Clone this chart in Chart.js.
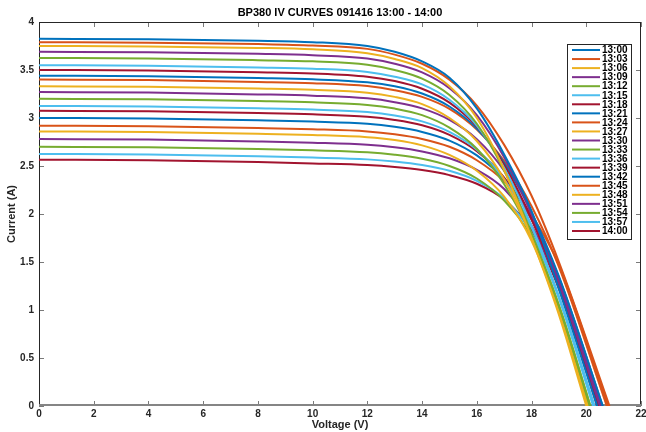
<!DOCTYPE html>
<html>
<head>
<meta charset="utf-8">
<title>BP380 IV curves 091416</title>
<script src="https://cdn.jsdelivr.net/npm/chart.js@4.4.1/dist/chart.umd.min.js"></script>
<style>
    html, body { margin: 0; padding: 0; background: #ffffff; }
    #wrap { position: relative; width: 646px; height: 432px; }
</style>
</head>
<body>
<div id="wrap"><canvas id="ivChart" width="646" height="432"></canvas></div>
<script>
// IV curves of a BP380 panel, one sweep every 3 minutes

const TITLE = "BP380 IV CURVES 091416 13:00 - 14:00";

const times = [
    "13:00", "13:03", "13:06", "13:09", "13:12", "13:15", "13:18",
    "13:21", "13:24", "13:27", "13:30", "13:33", "13:36", "13:39",
    "13:42", "13:45", "13:48", "13:51", "13:54", "13:57", "14:00"
];

// voltage points (V) where the current was read for every sweep
const voltage = [0, 4, 8, 10, 12, 13, 14, 15, 16, 17, 18, 19];

// open circuit voltage of each sweep (current = 0)
const voc = [
    20.4, 20.85, 20.0, 20.5, 20.15, 20.3, 20.45,
    20.6, 20.75, 20.05, 20.55, 20.1, 20.3, 20.5,
    20.6, 20.8, 20.05, 20.45, 20.15, 20.25, 20.4
];

// current (A) at each voltage point, one row per sweep
const current = [
    [3.825, 3.82, 3.805, 3.79, 3.75, 3.69, 3.59, 3.42, 3.10, 2.62, 2.03, 1.22],
    [3.79, 3.785, 3.77, 3.755, 3.72, 3.66, 3.565, 3.40, 3.13, 2.72, 2.19, 1.50],
    [3.75, 3.745, 3.73, 3.715, 3.675, 3.615, 3.52, 3.33, 3.00, 2.46, 1.75, 0.95],
    [3.69, 3.685, 3.668, 3.654, 3.62, 3.565, 3.475, 3.31, 3.03, 2.59, 2.00, 1.28],
    [3.625, 3.62, 3.602, 3.59, 3.555, 3.50, 3.41, 3.24, 2.94, 2.45, 1.80, 1.04],
    [3.55, 3.545, 3.527, 3.514, 3.48, 3.43, 3.35, 3.19, 2.92, 2.48, 1.88, 1.14],
    [3.50, 3.495, 3.477, 3.464, 3.43, 3.385, 3.305, 3.16, 2.91, 2.51, 1.95, 1.24],
    [3.44, 3.435, 3.416, 3.403, 3.372, 3.33, 3.255, 3.12, 2.89, 2.53, 2.02, 1.35],
    [3.40, 3.395, 3.376, 3.363, 3.333, 3.29, 3.22, 3.095, 2.88, 2.55, 2.08, 1.45],
    [3.33, 3.325, 3.306, 3.293, 3.264, 3.22, 3.145, 3.00, 2.76, 2.36, 1.76, 0.98],
    [3.27, 3.265, 3.246, 3.233, 3.205, 3.165, 3.10, 2.98, 2.78, 2.45, 1.96, 1.31],
    [3.20, 3.195, 3.176, 3.163, 3.136, 3.098, 3.03, 2.90, 2.68, 2.31, 1.77, 1.02],
    [3.125, 3.12, 3.101, 3.088, 3.062, 3.026, 2.965, 2.855, 2.67, 2.36, 1.86, 1.14],
    [3.075, 3.07, 3.051, 3.038, 3.013, 2.98, 2.925, 2.825, 2.655, 2.38, 1.94, 1.28],
    [3.00, 2.995, 2.976, 2.963, 2.94, 2.908, 2.855, 2.765, 2.61, 2.36, 1.96, 1.34],
    [2.92, 2.915, 2.896, 2.883, 2.86, 2.83, 2.782, 2.70, 2.56, 2.34, 1.99, 1.47],
    [2.86, 2.855, 2.836, 2.823, 2.80, 2.77, 2.715, 2.615, 2.45, 2.18, 1.72, 0.98],
    [2.78, 2.775, 2.756, 2.743, 2.722, 2.695, 2.652, 2.58, 2.46, 2.26, 1.88, 1.24],
    [2.70, 2.695, 2.676, 2.663, 2.643, 2.617, 2.575, 2.50, 2.37, 2.14, 1.75, 1.05],
    [2.625, 2.62, 2.601, 2.588, 2.569, 2.546, 2.51, 2.45, 2.345, 2.16, 1.80, 1.12],
    [2.565, 2.56, 2.541, 2.527, 2.51, 2.49, 2.458, 2.405, 2.315, 2.15, 1.83, 1.22]
];

// MATLAB default line colours, repeated
const LINE_COLORS = ["#0072BD", "#D95319", "#EDB120", "#7E2F8E", "#77AC30", "#4DBEEE", "#A2142F"];

const FONT = "'Liberation Sans', Arial, Helvetica, sans-serif";
const AXIS_COLOR = "#262626";

Chart.defaults.font.family = FONT;
Chart.defaults.font.weight = "bold";
Chart.defaults.color = AXIS_COLOR;

// box round the plot with the ticks pointing inwards, like MATLAB
const axesBox = {
    id: "axesBox",
    beforeDatasetsDraw(chart) {
        const c = chart.ctx;
        const a = chart.chartArea;
        const xs = chart.scales.x, ys = chart.scales.y;
        const len = 5;
        c.save();
        c.strokeStyle = "#7a7a7a";
        c.lineWidth = 1;
        c.beginPath();
        xs.ticks.forEach(t => {
            const px = Math.round(xs.getPixelForValue(t.value)) + 0.5;
            c.moveTo(px, a.bottom); c.lineTo(px, a.bottom - len);
            c.moveTo(px, a.top); c.lineTo(px, a.top + len);
        });
        ys.ticks.forEach(t => {
            const py = Math.round(ys.getPixelForValue(t.value)) + 0.5;
            c.moveTo(a.left, py); c.lineTo(a.left + len, py);
            c.moveTo(a.right, py); c.lineTo(a.right - len, py);
        });
        c.stroke();
        // outer frame
        c.strokeStyle = AXIS_COLOR;
        c.strokeRect(Math.round(a.left) + 0.5, Math.round(a.top) + 0.5,
                     Math.round(a.width) - 1, Math.round(a.height) - 1);
        // x axis line is drawn a bit heavier and grey
        c.strokeStyle = "#858585";
        c.lineWidth = 2;
        c.beginPath();
        c.moveTo(a.left, a.bottom - 1);
        c.lineTo(a.right, a.bottom - 1);
        c.stroke();
        c.restore();
    },
    afterDraw(chart) {
        // title centred over the plot area
        const c = chart.ctx;
        const a = chart.chartArea;
        c.save();
        c.fillStyle = "#000000";
        c.font = "bold 11px " + FONT;
        c.textAlign = "center";
        c.textBaseline = "middle";
        c.fillText(TITLE, (a.left + a.right) / 2, 13);
        c.restore();
    }
};

// legend box in the upper right corner of the plot
const legendBox = {
    id: "legendBox",
    afterDraw(chart) {
        const c = chart.ctx;
        const x0 = 567, y0 = 44, w = 64, h = 195;
        const rowH = 9.05;
        c.save();
        c.fillStyle = "#ffffff";
        c.fillRect(x0, y0, w, h);
        c.strokeStyle = AXIS_COLOR;
        c.lineWidth = 1;
        c.strokeRect(x0 + 0.5, y0 + 0.5, w, h);
        c.font = "bold 10px " + FONT;
        c.textBaseline = "middle";
        c.textAlign = "left";
        chart.data.datasets.forEach((ds, i) => {
            const y = y0 + 6 + i * rowH;
            c.strokeStyle = ds.borderColor;
            c.lineWidth = 2;
            c.beginPath();
            c.moveTo(x0 + 5, y);
            c.lineTo(x0 + 33, y);
            c.stroke();
            c.fillStyle = "#000000";
            c.fillText(ds.label, x0 + 35, y + 0.5);
        });
        c.restore();
    }
};

function buildDatasets() {
    return times.map((t, i) => {
        const pts = voltage.map((v, k) => ({ x: v, y: current[i][k] }));
        pts.push({ x: voc[i], y: 0 });
        const col = LINE_COLORS[i % LINE_COLORS.length];
        return {
            label: t,
            data: pts,
            borderColor: col,
            backgroundColor: col,
            borderWidth: 2,
            pointRadius: 0,
            fill: false,
            cubicInterpolationMode: "monotone"
        };
    });
}

new Chart(document.getElementById("ivChart"), {
    type: "line",
    data: { datasets: buildDatasets() },
    options: {
        responsive: false,
        animation: false,
        devicePixelRatio: 1,
        layout: { padding: { top: 22, right: 5, left: 0, bottom: 0 } },
        plugins: {
            legend: { display: false },
            title: { display: false },
            tooltip: { enabled: false }
        },
        scales: {
            x: {
                type: "linear",
                min: 0,
                max: 22,
                ticks: { stepSize: 2, padding: 2, maxRotation: 0, autoSkip: false,
                         font: { size: 10, weight: "bold" }, color: AXIS_COLOR },
                grid: { display: false, drawTicks: false },
                border: { display: false },
                title: { display: true, text: "Voltage (V)", color: AXIS_COLOR,
                         font: { size: 11, weight: "bold" }, padding: { top: 0, bottom: 0 } },
                afterFit(s) { s.height = 26; s.paddingLeft = 0; s.paddingRight = 0; }
            },
            y: {
                min: 0,
                max: 4,
                ticks: { stepSize: 0.5, padding: 5,
                         font: { size: 10, weight: "bold" }, color: AXIS_COLOR,
                         // MATLAB style: 4, 3.5, 3 ... without trailing zeros
                         callback: function(value) { return String(value); } },
                grid: { display: false, drawTicks: false },
                border: { display: false },
                title: { display: true, text: "Current (A)", color: AXIS_COLOR,
                         font: { size: 11, weight: "bold" }, padding: { top: 5, bottom: 0 } },
                afterFit(s) { s.width = 39; s.paddingTop = 0; s.paddingBottom = 0; }
            }
        }
    },
    plugins: [axesBox, legendBox]
});
</script>
</body>
</html>
